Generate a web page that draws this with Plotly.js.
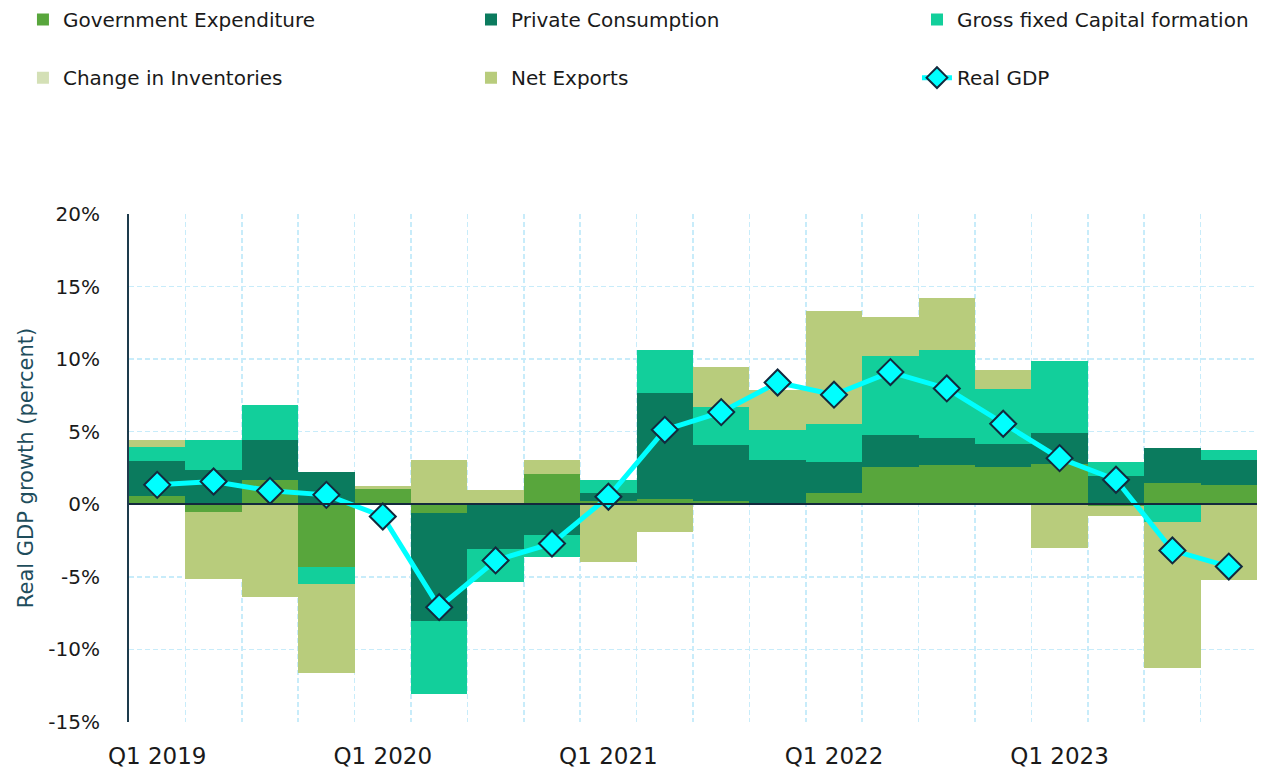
<!DOCTYPE html>
<html>
<head>
<meta charset="utf-8">
<script src="https://cdn.plot.ly/plotly-3.0.1.min.js"></script>
<style>html,body{margin:0;padding:0;background:#fff;}#chart{width:1275px;height:775px;}</style>
</head>
<body>
<div id="chart"></div>
<script>
const quarters = ["Q1 2019","Q2 2019","Q3 2019","Q4 2019","Q1 2020","Q2 2020","Q3 2020","Q4 2020","Q1 2021","Q2 2021","Q3 2021","Q4 2021","Q1 2022","Q2 2022","Q3 2022","Q4 2022","Q1 2023","Q2 2023","Q3 2023","Q4 2023"];
const govExpenditure = [0.6,-0.56,1.69,-4.33,1.07,-0.61,0.1,2.1,0.2,0.38,0.26,0.05,0.81,2.58,2.72,2.58,2.81,-0.15,1.5,1.34];
const privateConsumption = [2.4,2.38,2.71,2.24,0,-7.4,-3.07,-2.1,0.57,7.32,3.84,2.97,2.12,2.16,1.88,1.57,2.07,1.96,2.37,1.73];
const grossFixedCapital = [0.96,2.07,2.41,-1.15,0,-5.06,-2.29,-1.54,0.87,2.95,2.62,2.07,2.62,5.49,6.05,3.76,4.96,0.92,-1.25,0.66];
const changeInInventories = [0,0,0,0,0,0,0,0,0,0,0,0,0,0,0,0,0,0,0,0];
const netExports = [0.48,-4.6,-6.42,-6.11,0.16,3.07,0.9,0.97,-4.0,-1.9,2.71,2.8,7.76,2.64,3.55,1.36,-2.98,-0.65,-10.04,-5.2];
const realGDP = [1.34,1.57,0.93,0.65,-0.84,-7.09,-3.87,-2.7,0.52,5.13,6.35,8.39,7.55,9.11,7.98,5.55,3.18,1.69,-3.18,-4.29];
const xTickLabels = quarters.map(q => q.startsWith("Q1") ? q : "");
const yTickVals = [-15,-10,-5,0,5,10,15,20];
const yTickText = ["-15%","-10%","-5%","0%","5%","10%","15%","20%"];

function barTrace(name, y, color, legend) {
  return {type:"bar", name:name, x:quarters, y:y, width:1,
          marker:{color:color, line:{width:0}}, legend:legend, hoverinfo:"skip"};
}
const data = [
  barTrace("Government Expenditure", govExpenditure, "#58a63c", "legend"),
  barTrace("Private Consumption", privateConsumption, "#0b7b5e", "legend2"),
  barTrace("Gross fixed Capital formation", grossFixedCapital, "#12cf9b", "legend3"),
  barTrace("Change in Inventories", changeInInventories, "#d4e0b6", "legend4"),
  barTrace("Net Exports", netExports, "#b8cc7c", "legend5"),
  {type:"scatter", mode:"lines+markers", name:"Real GDP", x:quarters, y:realGDP,
   line:{color:"#00ffff", width:5},
   marker:{symbol:"diamond", size:20, color:"#00ffff", line:{color:"#13293d", width:2}},
   legend:"legend6", hoverinfo:"skip"}
];
function legendAt(x, y) {
  return {orientation:"h", xref:"container", yref:"container", x:x, y:y, xanchor:"left", yanchor:"top",
          font:{size:20, color:"#1a1a1a"}, bgcolor:"rgba(0,0,0,0)"};
}
const gridColor = "#c8ecfa";
const layout = {
  width:1275, height:775,
  margin:{l:129, r:18, t:214, b:53},
  paper_bgcolor:"#ffffff", plot_bgcolor:"#ffffff",
  font:{family:"DejaVu Sans", color:"#1a1a1a", size:20},
  barmode:"relative", bargap:0,
  showlegend:true,
  legend:legendAt(0.018, 1), legend2:legendAt(0.3694, 1), legend3:legendAt(0.7192, 1),
  legend4:legendAt(0.018, 0.925), legend5:legendAt(0.3694, 0.925), legend6:legendAt(0.7192, 0.925),
  xaxis:{type:"category", range:[-0.5,19.5], tickmode:"array", tickvals:quarters, ticktext:xTickLabels,
         tickangle:0, tickson:"boundaries", ticks:"", showgrid:true, gridcolor:gridColor, gridwidth:1.5, griddash:"5px,3px",
         showline:false, zeroline:false, tickfont:{size:23, color:"#1a1a1a"}, ticklabelstandoff:18},
  yaxis:{range:[-15,20], tickmode:"array", tickvals:yTickVals, ticktext:yTickText, showgrid:true, gridcolor:gridColor, gridwidth:1.5,
         griddash:"5px,3px", showline:true, linecolor:"#1d3b4c", linewidth:2,
         zeroline:true, zerolinecolor:"#13293d", zerolinewidth:2, zerolinelayer:"above traces",
         ticks:"", tickfont:{size:20, color:"#1a1a1a"}, ticklabelstandoff:23,
         title:{text:"Real GDP growth (percent)", font:{size:21, color:"#1e4d5c"}, standoff:9}}
};
Plotly.newPlot("chart", data, layout, {displayModeBar:false, staticPlot:true});
</script>
</body>
</html>
